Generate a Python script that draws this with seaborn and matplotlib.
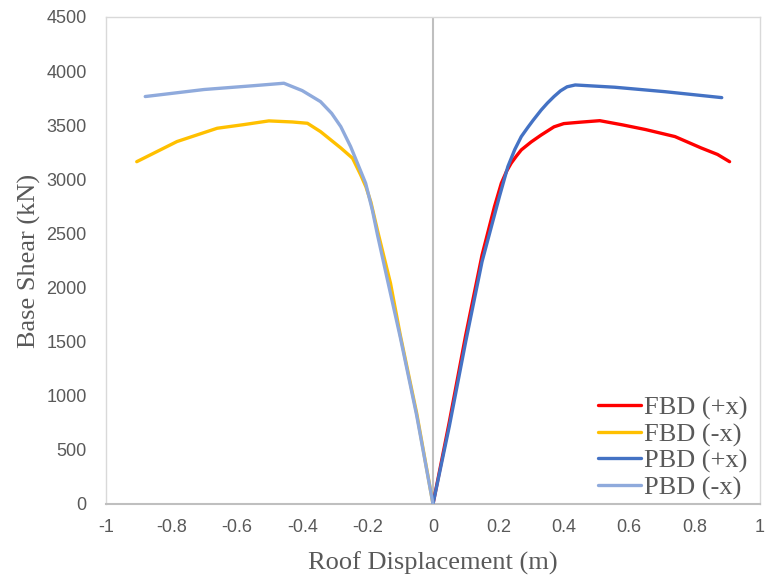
import numpy as np
import pandas as pd
import matplotlib
matplotlib.use("Agg")
import matplotlib.pyplot as plt
import seaborn as sns

# ---- data ----
fbd_px_x = [0, 0.05, 0.10, 0.15, 0.188, 0.209, 0.225, 0.239, 0.255, 0.27, 0.30, 0.331, 0.37, 0.40, 0.45, 0.51, 0.58, 0.65, 0.74, 0.82, 0.87, 0.907]
fbd_px_y = [0, 760, 1560, 2300, 2748, 2964, 3075, 3149, 3215, 3272, 3345, 3410, 3485, 3515, 3528, 3542, 3503, 3460, 3395, 3290, 3230, 3163]

fbd_nx_x = [0, -0.05, -0.10, -0.130, -0.17, -0.19, -0.205, -0.221, -0.246, -0.282, -0.344, -0.384, -0.43, -0.502, -0.58, -0.66, -0.783, -0.906]
fbd_nx_y = [0, 840, 1560, 2040, 2530, 2790, 2930, 3040, 3195, 3290, 3441, 3518, 3530, 3540, 3505, 3472, 3349, 3163]

pbd_px_x = [0, 0.05, 0.10, 0.15, 0.203, 0.229, 0.25, 0.27, 0.29, 0.306, 0.331, 0.35, 0.37, 0.39, 0.41, 0.435, 0.556, 0.709, 0.883]
pbd_px_y = [0, 720, 1500, 2240, 2840, 3118, 3275, 3395, 3480, 3545, 3641, 3705, 3765, 3818, 3855, 3872, 3851, 3810, 3755]

pbd_nx_x = [0, -0.05, -0.10, -0.137, -0.17, -0.185, -0.206, -0.231, -0.252, -0.282, -0.31, -0.344, -0.40, -0.456, -0.55, -0.70, -0.88]
pbd_nx_y = [0, 820, 1540, 2040, 2490, 2710, 2964, 3149, 3303, 3487, 3610, 3718, 3820, 3888, 3865, 3830, 3765]

series_names = ["FBD (+x)", "FBD (-x)", "PBD (+x)", "PBD (-x)"]
series_colors = ["#FF0000", "#FFC000", "#4472C4", "#8FAADC"]

x_ticks = [-1, -0.8, -0.6, -0.4, -0.2, 0, 0.2, 0.4, 0.6, 0.8, 1]
x_tick_labels = ["-1", "-0.8", "-0.6", "-0.4", "-0.2", "0", "0.2", "0.4", "0.6", "0.8", "1"]
y_ticks = [0, 500, 1000, 1500, 2000, 2500, 3000, 3500, 4000, 4500]

frames = []
for name, xs, ys in zip(series_names,
                        [fbd_px_x, fbd_nx_x, pbd_px_x, pbd_nx_x],
                        [fbd_px_y, fbd_nx_y, pbd_px_y, pbd_nx_y]):
    frames.append(pd.DataFrame({"x": xs, "y": ys, "series": name}))
df = pd.concat(frames, ignore_index=True)

sns.set_theme(style="white")
plt.rcParams["font.family"] = ["Liberation Sans", "DejaVu Sans"]

fig = plt.figure(figsize=(7.68, 5.83), dpi=100)
ax = fig.add_axes([106/768, 1 - 504/583, (760-106)/768, (504-17)/583])

ax.axvline(0, color="#BFBFBF", lw=1.5, zorder=1)

sns.lineplot(data=df, x="x", y="y", hue="series", hue_order=series_names,
             palette=dict(zip(series_names, series_colors)), sort=False,
             estimator=None, units="series", lw=2.4, ax=ax, zorder=3)

ax.set_xlim(-1, 1)
ax.set_ylim(0, 4500)
ax.set_xticks(x_ticks)
ax.set_xticklabels(x_tick_labels)
ax.set_yticks(y_ticks)
ax.tick_params(axis="both", length=0, labelsize=13, labelcolor="#595959")
ax.tick_params(axis="x", pad=11)
ax.tick_params(axis="y", pad=14)

for s in ["top", "right", "left"]:
    ax.spines[s].set_color("#D9D9D9")
    ax.spines[s].set_linewidth(1.0)
ax.spines["bottom"].set_color("#BFBFBF")
ax.spines["bottom"].set_linewidth(1.5)

serif = ["Liberation Serif", "DejaVu Serif"]
ax.set_xlabel("Roof Displacement (m)", family=serif, fontsize=19, color="#595959")
ax.set_ylabel("Base Shear (kN)", family=serif, fontsize=19, color="#595959")
ax.xaxis.label.set_va("center")
ax.yaxis.label.set_va("center")
ax.xaxis.set_label_coords(0.5, (504 - 563) / 487)
ax.yaxis.set_label_coords((29 - 106) / 654, 0.5)

leg = ax.legend(loc="lower right", bbox_to_anchor=((748 - 106) / 654, 0.009), frameon=False,
                prop={"family": serif, "size": 19},
                handlelength=1.6, handletextpad=0.15, labelspacing=0.1,
                borderaxespad=0.0, borderpad=0.0, labelcolor="#595959")
for line in leg.get_lines():
    line.set_linewidth(2.4)

fig.savefig("out.png", dpi=100)
